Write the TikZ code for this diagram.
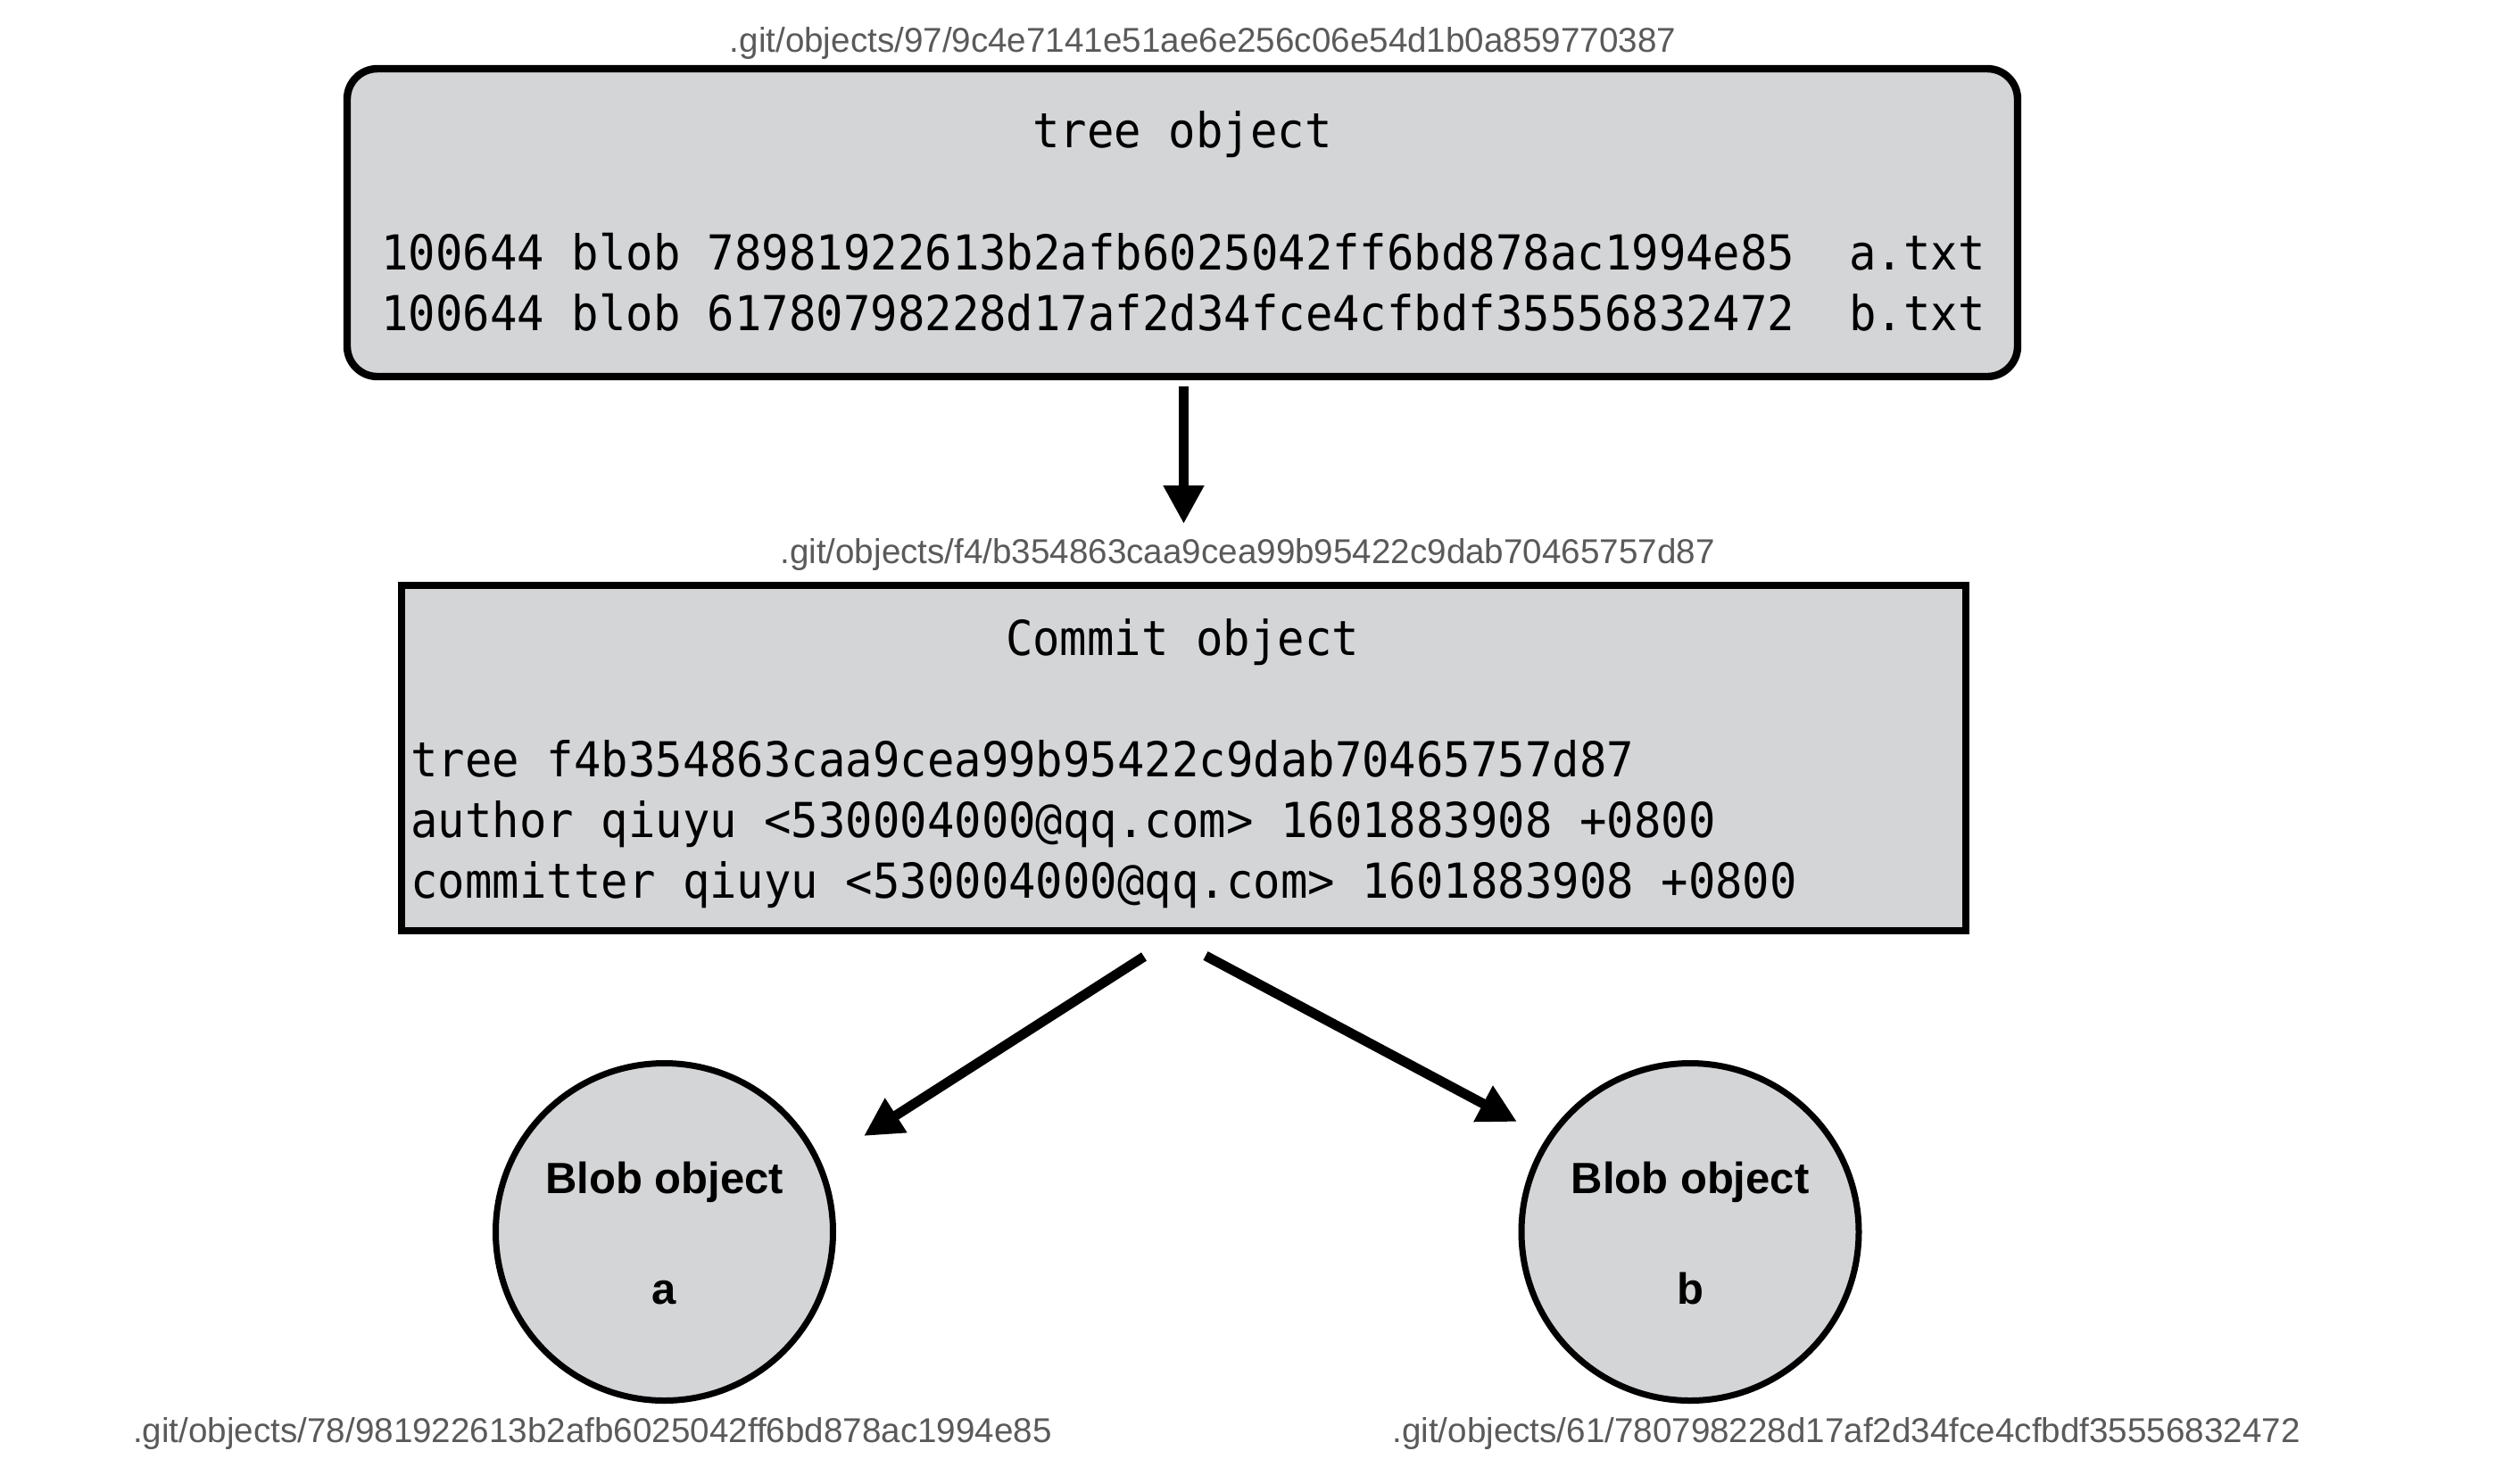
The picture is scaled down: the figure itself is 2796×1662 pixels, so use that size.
\documentclass[tikz,border=0pt]{standalone}
\usepackage{fontspec}
\setmainfont{Liberation Sans}
\newfontfamily\codefont[FakeStretch=0.937]{DejaVu Sans Mono}
\usetikzlibrary{arrows.meta,calc}
\definecolor{objfill}{RGB}{212,213,215}
\definecolor{pathgray}{RGB}{90,90,90}

\begin{document}
\begin{tikzpicture}[x=0.5pt,y=-0.5pt,
  objbox/.style={draw=black, fill=objfill, line width=4.2pt, inner sep=0pt},
  blob/.style={circle, draw=black, fill=objfill, line width=3.5pt, minimum size=189pt, inner sep=0pt},
  codeline/.style={anchor=base west, inner sep=0pt, font=\codefont\fontsize{27}{32}\selectfont},
  codetitle/.style={anchor=base, inner sep=0pt, font=\codefont\fontsize{27}{32}\selectfont},
  pathlabel/.style={anchor=base, inner sep=0pt, text=pathgray, font=\fontsize{19.3}{23}\selectfont},
  blobtext/.style={anchor=base, inner sep=0pt, font=\bfseries\fontsize{24.5}{29}\selectfont},
  link/.style={line width=5.5pt, -{Triangle[length=21.5pt,width=21.5pt]}}
]
\useasboundingbox (0,0) rectangle (2796,1662);
\fill[white] (0,0) rectangle (2796,1662);

% tree object
\node[objbox, rounded corners=17pt, minimum width=936pt, minimum height=172.5pt] (tree) at (1325,249.5) {};
\node[pathlabel] (treepath) at (1348,58) {.git/objects/97/9c4e7141e51ae6e256c06e54d1b0a859770387};
\node[codetitle] (treetitle) at (1325,165) {tree object};
\node[codeline] (treeA) at (427,302) {100644 blob 78981922613b2afb6025042ff6bd878ac1994e85\ \ a.txt};
\node[codeline] (treeB) at (427,370) {100644 blob 61780798228d17af2d34fce4cfbdf35556832472\ \ b.txt};

% commit object
\node[objbox, line width=4pt, minimum width=876.5pt, minimum height=193.5pt] (commit) at (1326.5,849.5) {};
\node[pathlabel] (commitpath) at (1398,631) {.git/objects/f4/b354863caa9cea99b95422c9dab70465757d87};
\node[codetitle] (committitle) at (1325,734) {Commit object};
\node[codeline] (ctree) at (460,870) {tree f4b354863caa9cea99b95422c9dab70465757d87};
\node[codeline] (cauthor) at (460,938) {author qiuyu <530004000@qq.com> 1601883908 +0800};
\node[codeline] (ccommitter) at (460,1006) {committer qiuyu <530004000@qq.com> 1601883908 +0800};

% blob objects
\node[blob] (blobA) at (744.5,1380.5) {};
\node[blobtext] (blobAname) at (744.5,1337) {Blob object};
\node[blobtext] (blobAid) at (744.5,1461) {a};
\node[pathlabel] (blobApath) at (664,1616) {.git/objects/78/981922613b2afb6025042ff6bd878ac1994e85};

\node[blob] (blobB) at (1894,1380.5) {};
\node[blobtext] (blobBname) at (1894,1337) {Blob object};
\node[blobtext] (blobBid) at (1894,1461) {b};
\node[pathlabel] (blobBpath) at (2069,1616) {.git/objects/61/780798228d17af2d34fce4cfbdf35556832472};

% connectors
\coordinate (treeOut) at (1326.5,433);
\coordinate (commitIn) at (1326.5,587);
\coordinate (commitOutA) at (1282,1072);
\coordinate (blobAIn) at (968,1273);
\coordinate (commitOutB) at (1351,1071);
\coordinate (blobBIn) at (1700,1257);
\draw[link] (treeOut) -- (commitIn);
\draw[link] (commitOutA) -- (blobAIn);
\draw[link] (commitOutB) -- (blobBIn);
\end{tikzpicture}
\end{document}
